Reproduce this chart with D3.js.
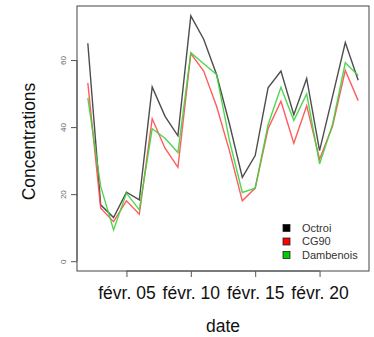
<!DOCTYPE html>
<html><head><meta charset="utf-8">
<script src="https://cdn.jsdelivr.net/npm/d3@7"></script>
<style>body{margin:0;background:#fff}svg{display:block}text{font-family:"Liberation Sans",Arial,sans-serif}</style>
</head><body><svg id="c" width="374" height="337"></svg>
<script>
const days = [2,3,4,5,6,7,8,9,10,11,12,13,14,15,16,17,18,19,20,21,22,23];
const octroi = [65,16.8,13,20.6,18.3,52,43.2,37.4,73.2,66.2,55.7,41,25,31.5,51.7,56.7,43.7,54.5,33,49,65.2,54];
const cg90 = [53.2,15.8,11.8,18,14,42.5,33.7,28,61.9,56.7,46.2,33,18,21.8,39.5,47.7,35.2,46.4,30.4,40.2,56.9,47.9];
const dambenois = [48.7,22.3,9.3,20.3,15.3,39.5,36.7,32.4,62.2,58.9,55.7,36,20.5,21.8,40.7,51.9,42,49.9,29,40.7,59.2,55.4];
const seriesNames = ["Octroi","CG90","Dambenois"];
const seriesColors = ["#3a3a3a","#ff4a4a","#3fd13f"];
const legendColors = ["#000000","#ff0000","#00cc00"];
const yTicks = [0,20,40,60];
const xTickDays = [5,10,15,20];

const svg = d3.select("#c");
const L=77,R=369,T=6,B=271;
const dates = days.map(d=>new Date(2015,1,d));
const x0 = new Date(2015,1,2), x1 = new Date(2015,1,23);
const span = x1-x0;
const x = d3.scaleTime().domain([new Date(+x0-0.04*span), new Date(+x1+0.04*span)]).range([L,R]);
const ymax = d3.max(octroi.concat(cg90,dambenois));
const y = d3.scaleLinear().domain([-0.04*ymax, ymax*1.04]).range([B,T]);

// lines
const all=[octroi,cg90,dambenois];
const line = d3.line().x((d,i)=>x(dates[i])).y(d=>y(d));
all.forEach((s,k)=>{
  svg.append("path").attr("d",line(s)).attr("fill","none")
    .attr("stroke",seriesColors[k]).attr("stroke-width",1.4).attr("stroke-opacity",0.9);
});

// box
svg.append("rect").attr("x",L).attr("y",T).attr("width",R-L).attr("height",B-T)
  .attr("fill","none").attr("stroke","#444").attr("stroke-width",1);

// y axis
const ya = svg.append("g").attr("transform",`translate(${L},0)`)
  .call(d3.axisLeft(y).tickValues(yTicks).tickSize(6).tickFormat(d3.format("d")));
ya.select(".domain").attr("d",`M0,${y(0)}V${y(60)}`).attr("stroke","#555");
ya.selectAll(".tick line").attr("stroke","#555");
ya.selectAll(".tick text").attr("fill","#666").attr("font-size",8)
  .attr("x",null).attr("dy",null)
  .attr("text-anchor","middle")
  .attr("transform","translate(-14,0) rotate(-90)")
  .attr("dy","0.32em");

// x axis
const xa = svg.append("g").attr("transform",`translate(0,${B})`)
  .call(d3.axisBottom(x).tickValues(xTickDays.map(d=>new Date(2015,1,d))).tickSize(6)
    .tickFormat(d=>"févr. "+d3.timeFormat("%d")(d)));
xa.select(".domain").attr("d",`M${x(new Date(2015,1,5))},0H${x(new Date(2015,1,20))}`).attr("stroke","#555");
xa.selectAll(".tick line").attr("stroke","#555");
xa.selectAll(".tick text").attr("fill","#111").attr("font-size",17.5).attr("y",16).attr("dy","0.71em");

// axis titles
svg.append("text").attr("x",(L+R)/2).attr("y",332).attr("text-anchor","middle")
  .attr("font-size",17.5).attr("fill","#111").text("date");
svg.append("text").attr("transform",`translate(35,${(83+200)/2}) rotate(-90)`)
  .attr("text-anchor","middle").attr("font-size",17.5).attr("fill","#111").text("Concentrations");

// legend
const lg = svg.append("g");
seriesNames.forEach((n,i)=>{
  const cy = 228 + i*13.5;
  lg.append("rect").attr("x",283).attr("y",cy-3.5).attr("width",7).attr("height",7)
    .attr("fill",legendColors[i]).attr("stroke","#222").attr("stroke-width",0.8);
  lg.append("text").attr("x",302).attr("y",cy).attr("dy","0.35em")
    .attr("font-size",11).attr("fill","#333").text(n);
});
</script></body></html>
